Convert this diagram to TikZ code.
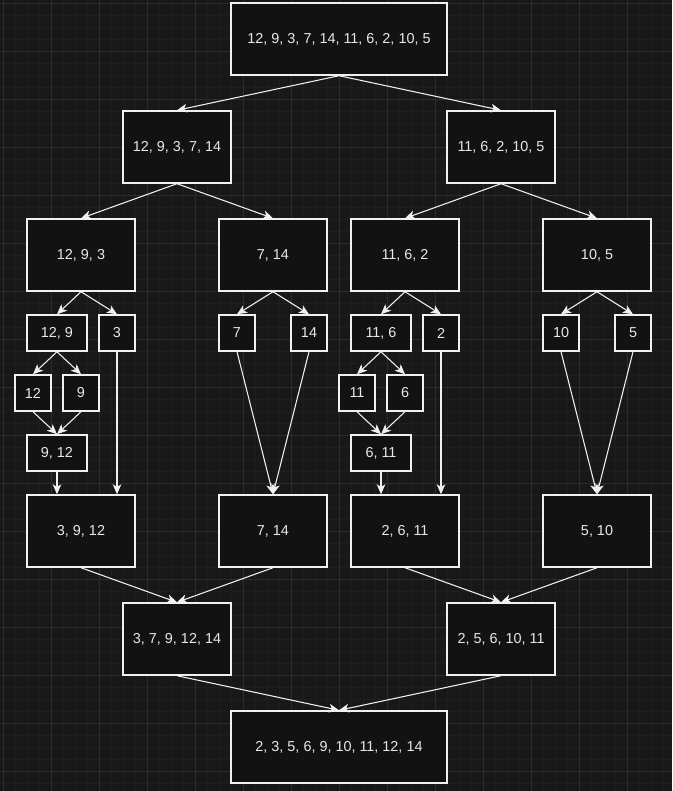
\documentclass[tikz,border=0pt]{standalone}
\usepackage{fontspec}
\setmainfont{Liberation Sans}
\usepackage{xcolor}
\usepackage{tikz}
\usetikzlibrary{arrows.meta}
\definecolor{canvas}{RGB}{24,24,24}
\definecolor{boxfill}{RGB}{18,18,18}
\definecolor{gridminor}{RGB}{30,30,30}
\definecolor{gridmajor}{RGB}{44,44,44}
\definecolor{edge}{RGB}{240,240,240}
\definecolor{label}{RGB}{232,232,232}

\begin{document}
\begin{tikzpicture}[x=0.75pt, y=-0.75pt,
  box/.style={draw=edge, line width=1.1pt, fill=boxfill, minimum height=54pt, inner sep=0pt,
    font=\fontsize{10.8}{13}\selectfont, text=label},
  wide/.style={box, minimum width=162pt},
  mid/.style={box, minimum width=81pt},
  pair/.style={box, minimum width=45pt, minimum height=27pt},
  single/.style={box, minimum width=27pt, minimum height=27pt},
  link/.style={draw=edge, line width=0.8pt, -{Stealth[length=7.5pt, width=6.5pt, inset=2pt]}}]
  \useasboundingbox (0,0) rectangle (672,791);
  \fill[canvas] (0,0) rectangle (672,791);
  \foreach \g in {3,15,...,672} \draw[gridminor, line width=0.5pt] (\g,0) -- (\g,791);
  \foreach \g in {3,15,...,791} \draw[gridminor, line width=0.5pt] (0,\g) -- (672,\g);
  \foreach \g in {3,51,...,672} \draw[gridmajor, line width=0.6pt] (\g,0) -- (\g,791);
  \foreach \g in {3,51,...,791} \draw[gridmajor, line width=0.6pt] (0,\g) -- (672,\g);

  % split
  \node[wide] (top) at (339,39) {12, 9, 3, 7, 14, 11, 6, 2, 10, 5};
  \node[mid] (l) at (177,147) {12, 9, 3, 7, 14};
  \node[mid] (r) at (501,147) {11, 6, 2, 10, 5};
  \foreach \n/\x/\lbl in {ll/81/{12, 9, 3}, lr/273/{7, 14}, rl/405/{11, 6, 2}, rr/597/{10, 5}}
    \node[mid] (\n) at (\x,255) {\lbl};
  \node[pair] (lla) at (57,333) {12, 9};
  \node[single] (llb) at (117,333) {3};
  \node[single] (lra) at (237,333) {7};
  \node[single] (lrb) at (309,333) {14};
  \node[pair] (rla) at (381,333) {11, 6};
  \node[single] (rlb) at (441,333) {2};
  \node[single] (rra) at (561,333) {10};
  \node[single] (rrb) at (633,333) {5};
  \node[single] (llaa) at (33,393) {12};
  \node[single] (llab) at (81,393) {9};
  \node[single] (rlaa) at (357,393) {11};
  \node[single] (rlab) at (405,393) {6};

  % merge
  \node[pair] (llm) at (57,453) {9, 12};
  \node[pair] (rlm) at (381,453) {6, 11};
  \foreach \n/\x/\lbl in {llr/81/{3, 9, 12}, lrr/273/{7, 14}, rlr/405/{2, 6, 11}, rrr/597/{5, 10}}
    \node[mid] (\n) at (\x,531) {\lbl};
  \node[mid] (lm) at (177,639) {3, 7, 9, 12, 14};
  \node[mid] (rm) at (501,639) {2, 5, 6, 10, 11};
  \node[wide] (res) at (339,747) {2, 3, 5, 6, 9, 10, 11, 12, 14};

  \foreach \a/\b in {top/l, top/r, l/ll, l/lr, r/rl, r/rr, ll/lla, ll/llb, lr/lra, lr/lrb,
      rl/rla, rl/rlb, rr/rra, rr/rrb, lla/llaa, lla/llab, rla/rlaa, rla/rlab,
      llaa/llm, llab/llm, rlaa/rlm, rlab/rlm,
      lra/lrr, lrb/lrr, rra/rrr, rrb/rrr, llr/lm, lrr/lm, rlr/rm, rrr/rm, lm/res, rm/res}
    \draw[link] (\a.south) -- (\b.north);
  % straight down
  \foreach \a/\b in {llm/llr, llb/llr, rlm/rlr, rlb/rlr}
    \draw[link] (\a.south) -- (\a.south |- \b.north);
\end{tikzpicture}
\end{document}
